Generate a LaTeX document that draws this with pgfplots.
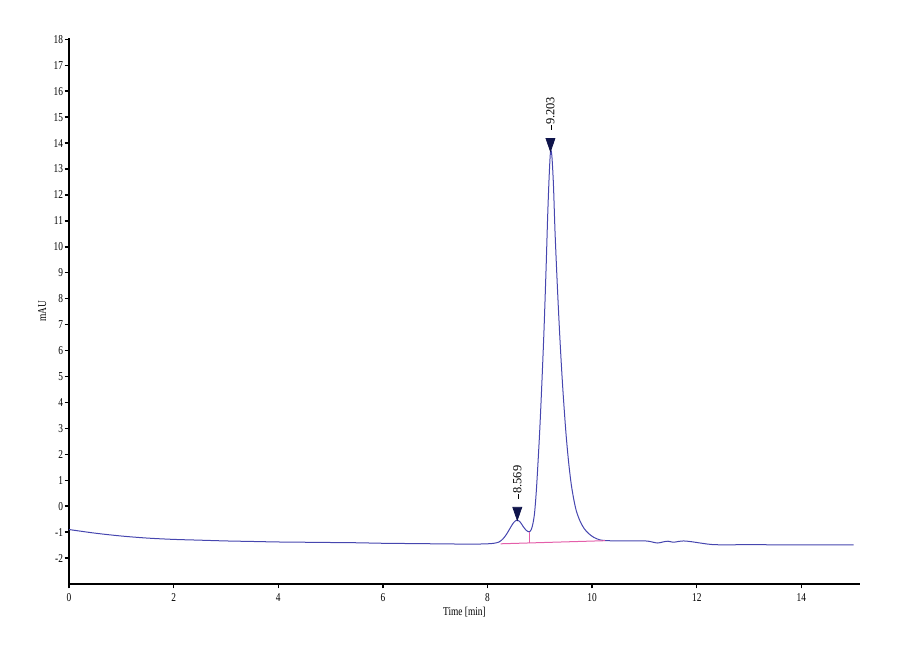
\documentclass[border=0pt]{standalone}
\usepackage{fontspec}
\setmainfont[FakeStretch=0.78]{Liberation Serif}
\newfontfamily\peakfont{Liberation Serif}
\usepackage{pgfplots}
\pgfplotsset{compat=1.18}

\definecolor{trace}{RGB}{70,70,175}
\definecolor{base}{RGB}{228,95,170}
\definecolor{marker}{RGB}{15,20,75}

\begin{document}
\begin{tikzpicture}
\useasboundingbox (-34.5pt,-38pt) rectangle (415.5pt,292pt);
\begin{axis}[
    scale only axis,
    width=395.5pt,
    height=273pt,
    xmin=0, xmax=15.12,
    ymin=-3, ymax=18.05,
    axis x line=bottom,
    axis y line=left,
    axis line style={-, line width=0.9pt},
    tick align=outside,
    major tick length=2.2pt,
    tick style={line width=0.7pt, black},
    xtick={0,2,...,14},
    ytick={-2,-1,...,18},
    font=\fontsize{6}{7}\selectfont,
    /pgf/number format/assume math mode=true,
    yticklabel style={inner sep=0.6pt},
    xticklabel style={inner sep=1pt, yshift=-1.2pt},
    xlabel={Time [min]},
    ylabel={mAU},
    xlabel style={at={(axis description cs:0.5,0)}, anchor=center, yshift=-14pt},
    ylabel style={at={(axis description cs:-0.034,0.5)}, anchor=center, rotate=0},
    clip=false,
]
% chromatogram trace
\addplot[trace, line width=0.5pt, smooth, tension=0.5] coordinates {
    (0,-0.90) (0.5,-1.04) (1,-1.15) (1.5,-1.23) (2,-1.28) (2.5,-1.31)
    (3,-1.34) (3.5,-1.36) (4,-1.38) (4.5,-1.39) (5,-1.40) (5.5,-1.41)
    (6,-1.43) (6.5,-1.44) (7,-1.45) (7.5,-1.46) (7.8,-1.46) (8.0,-1.45)
    (8.12,-1.43) (8.22,-1.38) (8.30,-1.25) (8.37,-1.06) (8.44,-0.82)
    (8.50,-0.63) (8.56,-0.54) (8.62,-0.60) (8.68,-0.78) (8.74,-0.93)
    (8.80,-0.99) (8.84,-0.88) (8.87,-0.65) (8.90,-0.25) (8.93,0.50)
    (8.96,1.50) (9.00,3.00) (9.04,4.80) (9.08,6.80) (9.12,9.20)
    (9.15,11.20) (9.18,12.80) (9.205,13.68) (9.23,13.50) (9.26,12.40)
    (9.29,10.60) (9.33,8.70) (9.37,7.00) (9.41,5.50) (9.45,4.20)
    (9.50,2.80) (9.55,1.70) (9.60,0.85) (9.65,0.25) (9.70,-0.20)
    (9.77,-0.58) (9.85,-0.87) (9.93,-1.05) (10.03,-1.20) (10.15,-1.30)
    (10.3,-1.33) (10.6,-1.34) (11.0,-1.34) (11.1,-1.36)
    (11.25,-1.42) (11.35,-1.38) (11.45,-1.35) (11.55,-1.39) (11.65,-1.36)
    (11.75,-1.34) (11.9,-1.37) (12.1,-1.43) (12.3,-1.48) (12.6,-1.49)
    (13.0,-1.48) (13.5,-1.49) (14.0,-1.49) (14.5,-1.49) (15.0,-1.49)
};
% integration baseline and drop line
\addplot[base, line width=0.5pt] coordinates {(8.25,-1.45) (10.25,-1.33)};
\addplot[base, line width=0.5pt] coordinates {(8.80,-1.43) (8.80,-0.99)};
% peak markers with retention times
\addplot[
    only marks,
    mark=triangle*,
    mark size=4.3pt,
    mark options={yshift=4.3pt, rotate=180, xscale=0.6, fill=marker, draw=marker},
    point meta=explicit symbolic,
    nodes near coords={\rule[0.42ex]{2.5pt}{0.4pt}\pgfplotspointmeta},
    every node near coord/.style={yshift=6.3pt, rotate=90, anchor=west,
        inner sep=0pt, font=\peakfont\fontsize{6.2}{7.2}\selectfont, text=black},
] coordinates {
    (8.569,-0.54) [8.569]
    (9.203,13.68) [9.203]
};
\end{axis}
\end{tikzpicture}
\end{document}
